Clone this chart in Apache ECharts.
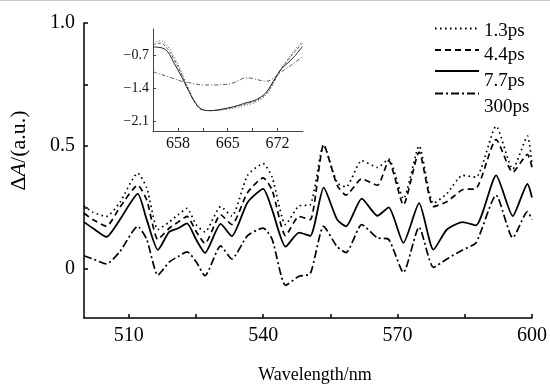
<!DOCTYPE html>
<html>
<head>
<meta charset="utf-8">
<script src="https://cdn.jsdelivr.net/npm/echarts@6/dist/echarts.min.js"></script>
<style>
html,body{margin:0;padding:0;background:#fff;}
#c{width:550px;height:389px;}
</style>
</head>
<body>
<div id="c"></div>
<script>
// ---- main chart data ----
const wavelength = [500, 502, 505, 508, 512, 514, 516.5, 519, 521, 523, 525, 527, 530.5, 533, 536.5, 540, 542, 545, 548, 550.5, 553.5, 556.5, 558.5, 562, 565.5, 568, 571.3, 574.8, 578, 581, 584.5, 587.5, 592, 595.7, 599, 600];
const ps1_3 = [0.256, 0.23, 0.213, 0.27, 0.389, 0.33, 0.16, 0.19, 0.22, 0.246, 0.18, 0.15, 0.253, 0.215, 0.38, 0.428, 0.373, 0.18, 0.256, 0.26, 0.505, 0.35, 0.333, 0.44, 0.413, 0.446, 0.285, 0.5, 0.266, 0.306, 0.38, 0.373, 0.58, 0.406, 0.54, 0.42];
const ps4_4 = [0.226, 0.2, 0.173, 0.25, 0.34, 0.28, 0.12, 0.165, 0.19, 0.213, 0.153, 0.103, 0.22, 0.18, 0.31, 0.37, 0.32, 0.135, 0.213, 0.2, 0.505, 0.34, 0.3, 0.366, 0.34, 0.44, 0.26, 0.475, 0.253, 0.273, 0.322, 0.326, 0.526, 0.393, 0.466, 0.413];
const ps7_7 = [0.19, 0.165, 0.13, 0.2, 0.305, 0.2, 0.077, 0.15, 0.165, 0.185, 0.12, 0.065, 0.183, 0.133, 0.27, 0.325, 0.24, 0.09, 0.147, 0.134, 0.33, 0.2, 0.173, 0.286, 0.216, 0.25, 0.106, 0.267, 0.078, 0.16, 0.19, 0.177, 0.38, 0.215, 0.345, 0.29];
const ps300 = [0.053, 0.04, 0.02, 0.07, 0.173, 0.12, -0.026, 0.027, 0.05, 0.069, 0.03, -0.028, 0.093, 0.04, 0.135, 0.166, 0.12, -0.067, -0.03, -0.02, 0.173, 0.09, 0.066, 0.18, 0.126, 0.12, -0.015, 0.17, 0.006, 0.04, 0.077, 0.106, 0.3, 0.126, 0.233, 0.2];
const seriesNames = ['1.3ps', '4.4ps', '7.7ps', '300ps'];

// ---- inset data ----
const insetWl = [654.5, 655.5, 656.5, 657.5, 658.5, 659.5, 660.5, 661.5, 662.5, 663.5, 664.5, 665.5, 666.5, 667.5, 668.5, 669.5, 670.5, 671.5, 672.5, 673.5, 674.5, 675.5];
const in1_3 = [-0.45, -0.40, -0.50, -0.75, -1.05, -1.40, -1.70, -1.85, -1.87, -1.87, -1.85, -1.83, -1.80, -1.76, -1.72, -1.65, -1.52, -1.28, -1.00, -0.78, -0.58, -0.42];
const in4_4 = [-0.48, -0.45, -0.56, -0.80, -1.10, -1.43, -1.72, -1.86, -1.87, -1.86, -1.84, -1.81, -1.77, -1.73, -1.69, -1.62, -1.50, -1.26, -1.00, -0.80, -0.62, -0.45];
const in7_7 = [-0.53, -0.54, -0.62, -0.88, -1.15, -1.45, -1.72, -1.85, -1.87, -1.86, -1.83, -1.80, -1.76, -1.71, -1.67, -1.60, -1.47, -1.23, -1.00, -0.86, -0.71, -0.52];
const in300 = [-1.05, -1.10, -1.15, -1.20, -1.25, -1.28, -1.31, -1.33, -1.33, -1.33, -1.32, -1.30, -1.24, -1.18, -1.19, -1.23, -1.25, -1.18, -1.06, -0.96, -0.85, -0.74];

// ---- ticks ----
const mainXTicks = [510, 525, 540, 555, 570, 585, 600];
const mainXLabels = [510, 540, 570, 600];
const mainYTicks = [0, 0.25, 0.5, 0.75, 1.0];
const mainYLabels = [0, 0.5, 1.0];
const insetXTicks = [658, 661.5, 665, 668.5, 672];
const insetXLabels = [658, 665, 672];
const insetYLabels = [-2.1, -1.4, -0.7];

const FONT = 'Liberation Serif';
const dashes = [[1.6, 3.4], [6, 4], null, [8, 3, 2, 3]];
const mainData = [ps1_3, ps4_4, ps7_7, ps300];
const insetData = [in1_3, in4_4, in7_7, in300];

const series = [];
mainData.forEach((arr, k) => {
  series.push({
    name: seriesNames[k], type: 'line', xAxisIndex: 0, yAxisIndex: 0,
    data: wavelength.map((x, i) => [x, arr[i]]),
    symbol: 'none', smooth: 0.2, silent: true, color: '#000',
    lineStyle: { color: '#000', width: k === 2 ? 1.8 : 1.7, type: dashes[k] ? dashes[k] : 'solid' }
  });
});
insetData.forEach((arr, k) => {
  series.push({
    name: 'inset ' + seriesNames[k], type: 'line', xAxisIndex: 1, yAxisIndex: 1,
    data: insetWl.map((x, i) => [x, arr[i]]),
    symbol: 'none', smooth: 0.4, silent: true, color: '#555',
    lineStyle: { color: k === 2 ? '#222' : '#555', width: 1, type: k === 2 ? 'solid' : (k === 0 ? [1, 2] : (k === 1 ? [3, 2] : [4, 2, 1, 2])) }
  });
});

// legends: one per item; line row y and text offset below the line
const legendLineY = [29.5, 51, 72, 94.5];
const legendTextOffset = [2.5, 5, 10, 13.5];
const LEG_H = 60;
const legend = seriesNames.map((n, k) => ({
  data: [n], left: 428, top: legendLineY[k] - LEG_H / 2, orient: 'vertical',
  itemWidth: 44, itemHeight: LEG_H, itemGap: 0, selectedMode: false,
  itemStyle: { opacity: 0 },
  formatter: '{t|' + n + '}',
  textStyle: { rich: { t: { fontFamily: FONT, fontSize: 19, color: '#000', padding: [legendTextOffset[k] * 2, 0, 0, 0] } } }
}));

const option = {
  animation: false,
  backgroundColor: '#fff',
  legend: legend,
  graphic: [{ type: 'rect', left: 0, top: 0, shape: { width: 550, height: 1 }, style: { fill: '#c8c8c8' }, silent: true }],
  grid: [
    { left: 82, right: 17, top: 23, bottom: 66 },
    { left: 153, top: 29, width: 150, height: 102 }
  ],
  xAxis: [
    {
      type: 'value', gridIndex: 0, min: 500, max: 600,
      name: 'Wavelength/nm', nameLocation: 'middle', nameGap: 48,
      nameTextStyle: { fontFamily: FONT, fontSize: 18, color: '#000', padding: [0, 0, 0, 14] },
      axisLine: { onZero: false, lineStyle: { color: '#000', width: 1.5 } },
      axisTick: { inside: true, length: 4, customValues: mainXTicks, lineStyle: { color: '#000', width: 1.5 } },
      axisLabel: { customValues: mainXLabels, margin: 8, fontFamily: FONT, fontSize: 20, color: '#000' },
      splitLine: { show: false }
    },
    {
      type: 'value', gridIndex: 1, min: 654.5, max: 675.6,
      axisLine: { onZero: false, lineStyle: { color: '#444', width: 1 } },
      axisTick: { inside: true, length: 3, customValues: insetXTicks, lineStyle: { color: '#444', width: 1 } },
      axisLabel: { customValues: insetXLabels, margin: 5, fontFamily: FONT, fontSize: 16, color: '#111' },
      splitLine: { show: false }
    }
  ],
  yAxis: [
    {
      type: 'value', gridIndex: 0, min: -0.2, max: 1.0,
      name: '{a|Δ}{i|A}{a|/(a.u.)}', nameLocation: 'middle', nameGap: 54,
      nameTextStyle: { padding: [0, 0, 0, 40], rich: {
        a: { fontFamily: FONT, fontSize: 22, color: '#000' },
        i: { fontFamily: FONT, fontSize: 22, fontStyle: 'italic', color: '#000' }
      } },
      axisLine: { show: true, onZero: false, lineStyle: { color: '#000', width: 1.5 } },
      axisTick: { show: true, inside: true, length: 4, customValues: mainYTicks, lineStyle: { color: '#000', width: 1.5 } },
      axisLabel: { customValues: mainYLabels, margin: 9, fontFamily: FONT, fontSize: 20, color: '#000',
        formatter: v => (v === 0 ? '0' : v.toFixed(1)) },
      splitLine: { show: false }
    },
    {
      type: 'value', gridIndex: 1, min: -2.3, max: -0.15,
      axisLine: { show: true, onZero: false, lineStyle: { color: '#444', width: 1 } },
      axisTick: { show: true, inside: true, length: 3, customValues: insetYLabels, lineStyle: { color: '#444', width: 1 } },
      axisLabel: { customValues: insetYLabels, margin: 4, fontFamily: FONT, fontSize: 14, color: '#111',
        formatter: v => '\u2212' + Math.abs(v).toFixed(1) },
      splitLine: { show: false }
    }
  ],
  series: series
};

const chart = echarts.init(document.getElementById('c'), null, { renderer: 'canvas' });
chart.setOption(option);
</script>
</body>
</html>
